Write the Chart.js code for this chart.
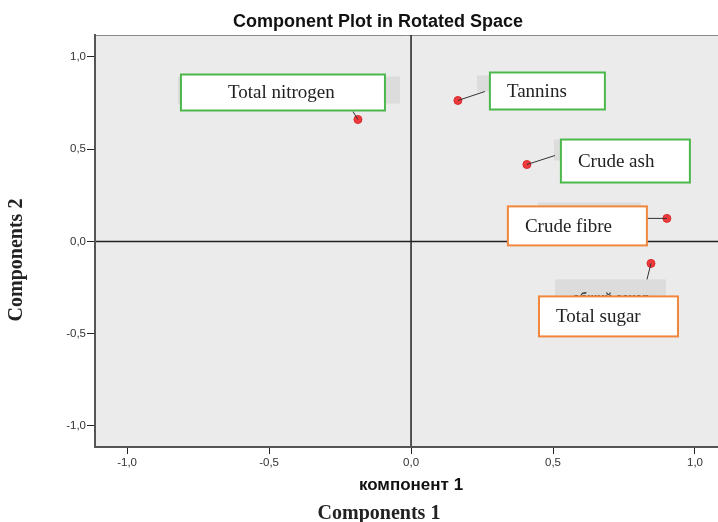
<!DOCTYPE html>
<html>
<head>
<meta charset="utf-8">
<script src="https://cdn.jsdelivr.net/npm/chart.js@4"></script>
<style>
  body { margin: 0; background: #fff; }
  #wrap { width: 718px; height: 522px; }
</style>
</head>
<body>
<div id="wrap"><canvas id="plot"></canvas></div>
<script>
// Loadings
const names = ["Total nitrogen", "Tannins", "Crude ash", "Crude fibre", "Total sugar"];
const comp1 = [-0.187, 0.165, 0.408, 0.901, 0.845];
const comp2 = [0.661, 0.764, 0.417, 0.125, -0.119];
const boxColours = ["#4cb84c", "#4cb84c", "#4cb84c", "#f0873c", "#f0873c"];
const tickValues = [-1, -0.5, 0, 0.5, 1];

// Label boxes placed relative to each point (pixels): box, text start, connector end, grey shadow
const labelLayout = [
  { dx: -177, dy: -45, w: 204, h: 36, tx: 47, lx: -5, ly: -8, sh: [-180, -43, 222, 27] },
  { dx: 32, dy: -28, w: 115, h: 37, tx: 17, lx: 27, ly: -9, sh: [19, -25, 90, 16] },
  { dx: 34, dy: -25, w: 129, h: 43, tx: 17, lx: 28, ly: -9, sh: [27, -25, 80, 21] },
  { dx: -159, dy: -12, w: 139, h: 39, tx: 17, lx: -20, ly: 0, sh: [-129, -16, 103, 20] },
  { dx: -112, dy: 33, w: 139, h: 40, tx: 17, lx: -4, ly: 16, sh: [-96, 16, 111, 22] }
];

const points = comp1.map((x, i) => ({ x, y: comp2[i] }));
const fmt = v => v.toFixed(1).replace(".", ",");

const decor = {
  id: "decor",
  beforeDraw(chart) {
    const { ctx, chartArea: a } = chart;
    ctx.save();
    ctx.fillStyle = "#ebebeb";
    ctx.fillRect(a.left, a.top, a.right - a.left, a.bottom - a.top);
    ctx.strokeStyle = "#8a8a8a";
    ctx.lineWidth = 1;
    ctx.beginPath();
    ctx.moveTo(a.left, a.top + 0.5);
    ctx.lineTo(a.right, a.top + 0.5);
    ctx.stroke();
    // zero reference lines
    const x0 = chart.scales.x.getPixelForValue(0);
    const y0 = chart.scales.y.getPixelForValue(0);
    ctx.strokeStyle = "#222";
    ctx.lineWidth = 1.5;
    ctx.beginPath();
    ctx.moveTo(x0, a.top);
    ctx.lineTo(x0, a.bottom);
    ctx.moveTo(a.left, y0);
    ctx.lineTo(a.right, y0);
    ctx.stroke();
    ctx.restore();
  },
  afterDatasetsDraw(chart) {
    const { ctx } = chart;
    const meta = chart.getDatasetMeta(0);
    ctx.save();
    meta.data.forEach((pt, i) => {
      const L = labelLayout[i];
      const px = pt.x, py = pt.y;
      // grey shadow of the original label
      ctx.fillStyle = "#dcdcdc";
      ctx.fillRect(px + L.sh[0], py + L.sh[1], L.sh[2], L.sh[3]);
      if (i === 4) {
        ctx.fillStyle = "#333";
        ctx.font = "bold 12px 'Liberation Sans', Arial, sans-serif";
        ctx.textAlign = "center";
        ctx.textBaseline = "top";
        ctx.fillText("общий сахар", px - 40, py + 29);
      }
      // connector
      ctx.strokeStyle = "#333";
      ctx.lineWidth = 1;
      ctx.beginPath();
      ctx.moveTo(px, py);
      ctx.lineTo(px + L.lx, py + L.ly);
      ctx.stroke();
      // white box
      const bx = px + L.dx, by = py + L.dy;
      ctx.fillStyle = "#fff";
      ctx.fillRect(bx, by, L.w, L.h);
      ctx.strokeStyle = boxColours[i];
      ctx.lineWidth = 2;
      ctx.strokeRect(bx, by, L.w, L.h);
      ctx.fillStyle = "#222";
      ctx.font = "19px 'Liberation Serif', 'DejaVu Serif', serif";
      ctx.textAlign = "left";
      ctx.textBaseline = "middle";
      ctx.fillText(names[i], bx + L.tx, by + L.h / 2 + 1);
    });
    ctx.restore();
  },
  afterDraw(chart) {
    const { ctx } = chart;
    ctx.save();
    ctx.fillStyle = "#111";
    ctx.textAlign = "center";
    ctx.textBaseline = "middle";
    ctx.font = "bold 18px 'Liberation Sans', Arial, sans-serif";
    ctx.fillText("Component Plot in Rotated Space", 378, 22);
    ctx.font = "bold 17px 'Liberation Sans', Arial, sans-serif";
    ctx.fillText("компонент 1", 411, 485);
    ctx.font = "bold 20px 'Liberation Serif', 'DejaVu Serif', serif";
    ctx.fillStyle = "#222";
    ctx.fillText("Components 1", 379, 514);
    ctx.translate(17, 260);
    ctx.rotate(-Math.PI / 2);
    ctx.fillText("Components 2", 0, 0);
    ctx.restore();
  }
};

new Chart(document.getElementById("plot"), {
  type: "scatter",
  data: {
    datasets: [{
      data: points,
      pointRadius: 4,
      pointBackgroundColor: "#ee3a3c",
      pointBorderColor: "#d92c2e",
      pointBorderWidth: 1
    }]
  },
  options: {
    responsive: true,
    maintainAspectRatio: false,
    animation: false,
    layout: { autoPadding: false, padding: { top: 35, left: 0, right: 0, bottom: 0 } },
    plugins: { legend: { display: false }, tooltip: { enabled: false } },
    scales: {
      x: {
        type: "linear",
        min: -1.113,
        max: 1.081,
        afterBuildTicks: s => { s.ticks = tickValues.map(v => ({ value: v })); },
        afterFit: s => { s.height = 75; s.paddingLeft = 0; s.paddingRight = 0; },
        grid: { drawOnChartArea: false, color: "#222", tickLength: 7, lineWidth: 1 },
        border: { display: true, color: "#555", width: 2 },
        ticks: { callback: v => fmt(v), color: "#333", padding: 2, font: { size: 11.5, family: "'Liberation Sans', Arial, sans-serif" } }
      },
      y: {
        type: "linear",
        min: -1.114,
        max: 1.119,
        afterBuildTicks: s => { s.ticks = tickValues.map(v => ({ value: v })); },
        afterFit: s => { s.width = 95; s.paddingTop = 0; s.paddingBottom = 0; },
        grid: { drawOnChartArea: false, color: "#222", tickLength: 8, lineWidth: 1 },
        border: { display: true, color: "#555", width: 2 },
        ticks: { callback: v => fmt(v), color: "#333", padding: 1, font: { size: 11.5, family: "'Liberation Sans', Arial, sans-serif" } }
      }
    }
  },
  plugins: [decor]
});
</script>
</body>
</html>
